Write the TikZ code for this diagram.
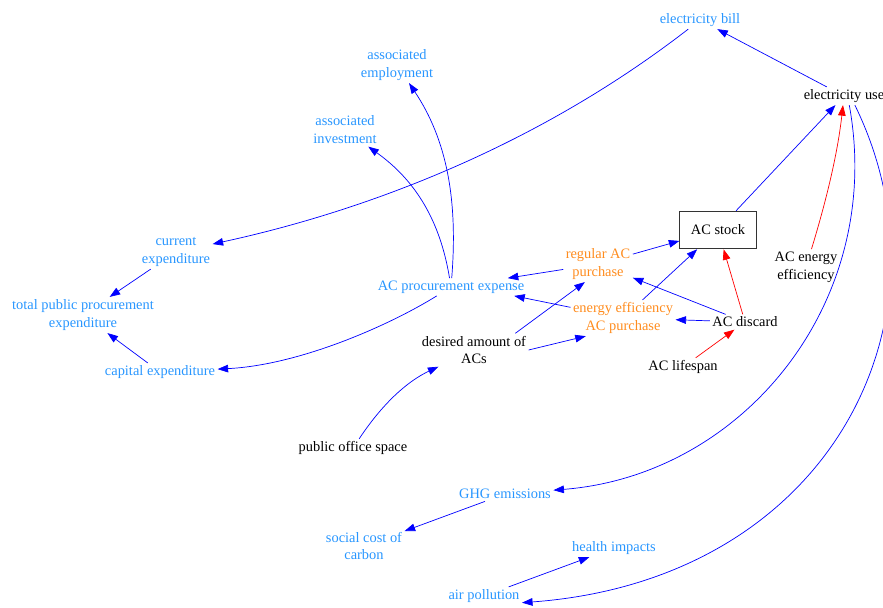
\documentclass[tikz,border=0pt]{standalone}
\usepackage{fontspec}
\setmainfont{Liberation Serif}
\usepackage{tikz}
\usetikzlibrary{arrows.meta}

\definecolor{varblue}{RGB}{40,150,255}
\definecolor{varorange}{RGB}{255,140,30}
\definecolor{linkblue}{RGB}{0,0,255}
\definecolor{linkred}{RGB}{255,0,0}

\begin{document}
\begin{tikzpicture}[x=0.03cm,y=-0.03cm,
    var/.style={font=\fontsize{12.3}{15.3}\selectfont, align=center, inner sep=2pt, text=black},
    bluevar/.style={var, text=varblue},
    orangevar/.style={var, text=varorange},
    stockbox/.style={var, draw=black!80, line width=0.9pt, minimum width=65pt, minimum height=32pt},
    link/.style={draw=linkblue, line width=0.6pt, -{Triangle[length=9pt,width=6.5pt]}},
    redlink/.style={link, draw=linkred}]
        % Fix the page size
        \useasboundingbox (0,0) rectangle (883,608);

        % Draw the variables
        \node[bluevar] (bill) at (700,20) {electricity bill};
        \node[var] (use) at (844,96) {electricity use};
        \node[bluevar] (employ) at (397,65) {associated\\employment};
        \node[bluevar] (invest) at (345,130) {associated\\investment};
        \node[bluevar] (current) at (176,252) {current\\expenditure};
        \node[bluevar] (total) at (83,315) {total public procurement\\expenditure};
        \node[bluevar] (capital) at (160,372) {capital expenditure};
        \node[bluevar] (expense) at (451,287) {AC procurement expense};
        \node[orangevar] (regular) at (598,264) {regular AC\\purchase};
        \node[orangevar] (effpurchase) at (623,318) {energy efficiency\\AC purchase};
        \node[var] (desired) at (474,350) {desired amount of\\ACs};
        \node[stockbox] (stock) at (718,230) {AC stock};
        \node[var] (acee) at (806,267) {AC energy\\efficiency};
        \node[var] (discard) at (745,322) {AC discard};
        \node[var] (lifespan) at (683,367) {AC lifespan};
        \node[var] (office) at (353,448) {public office space};
        \node[bluevar] (ghg) at (505,494) {GHG emissions};
        \node[bluevar] (scc) at (364,546) {social cost of\\carbon};
        \node[bluevar] (health) at (614,548) {health impacts};
        \node[bluevar] (air) at (484,596) {air pollution};

        % Draw the links around the stock
        \draw[link] (regular) -- (stock);
        \draw[link] (effpurchase) -- (stock);
        \draw[redlink] (discard) -- (stock);
        \draw[redlink] (lifespan) -- (discard);
        \draw[link] (discard) -- (regular);
        \draw[link] (discard) -- (effpurchase);
        \draw[link] (desired.22) -- (regular.-126);
        \draw[link] (desired.east) -- (effpurchase.-154);
        \draw[link] (office) .. controls (385,400) and (410,380) .. (desired);

        % Draw the links to the expenses
        \draw[link] (regular) -- (expense);
        \draw[link] (effpurchase) -- (expense.-8);
        \draw[link] (expense) .. controls (458,200) and (447,140) .. (employ);
        \draw[link] (expense) .. controls (440,220) and (415,180) .. (invest);
        \draw[link] (expense) .. controls (390,325) and (300,365) .. (capital);
        \draw[link] (current) -- (total);
        \draw[link] (capital) -- (total);

        % Draw the links from electricity use
        \draw[link] (stock) -- (use);
        \draw[redlink] (acee) .. controls (828,195) and (838,150) .. (use);
        \draw[link] (use) -- (bill);
        \draw[link] (bill) .. controls (536,147) and (365,211) .. (current);
        \draw[link] (use.-60) .. controls (885,300) and (745,475) .. (ghg);
        \draw[link] (use.-40) .. controls (960,320) and (830,580) .. (air.-10);
        \draw[link] (ghg) -- (scc);
        \draw[link] (air) -- (health);
    \end{tikzpicture}
\end{document}
